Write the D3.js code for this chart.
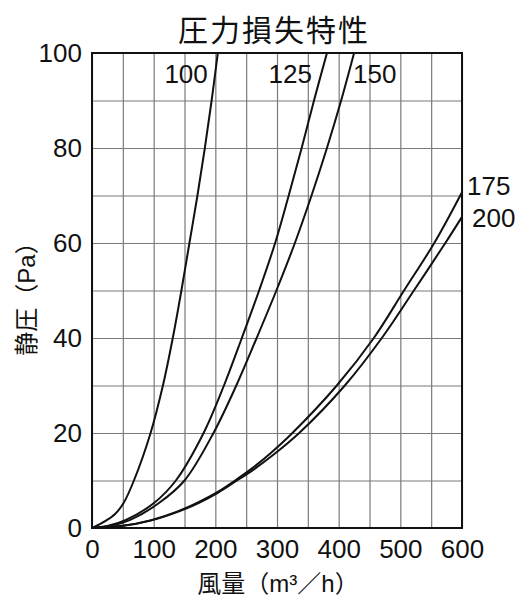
<!DOCTYPE html>
<html>
<head>
<meta charset="utf-8">
<script src="https://cdn.jsdelivr.net/npm/d3@7"></script>
<style>
body { margin: 0; background: #fff; }
</style>
</head>
<body>
<div id="chart"></div>
<script>
// Curves: [airflow (m3/h), static pressure (Pa)]
const curve100 = [[0,0],[22,1.5],[37,2.9],[51,5.2],[68,10],[95,20],[115,30],[131,40],[145,50],[158,60],[171,70],[183,80],[194,90],[204,100]];
const curve125 = [[0,0],[25,0.4],[55,1.7],[100,5.2],[136,10],[181,20],[214,30],[243,40],[271,50],[297,60],[319,70],[340,80],[360,90],[381,100]];
const curve150 = [[0,0],[30,0.4],[62,1.7],[108,5.2],[150,10],[197,20],[234,30],[267,40],[299,50],[329,60],[356,70],[381,80],[404,90],[425,100]];
const curve175 = [[0,0],[50,0.45],[96,1.65],[139,3.5],[172,5.4],[204,7.6],[232,10],[260,12.6],[290,15.8],[325,20],[397,30],[457,40],[506,50],[555,60],[600,70.7]];
const curve200 = [[0,0],[50,0.45],[96,1.6],[139,3.4],[172,5.2],[204,7.4],[234,9.9],[262,12.3],[292,15.2],[336,20],[410,30],[470,40],[522,50],[573,60],[600,65.5]];

const curveNames = ['100', '125', '150', '175', '200'];
const curves = [curve100, curve125, curve150, curve175, curve200];

// grid and tick labels
const xGrid = [0,50,100,150,200,250,300,350,400,450,500,550,600];
const xLabels = [0,100,200,300,400,500,600];
const yGrid = [0,10,20,30,40,50,60,70,80,90,100];
const yLabels = [0,20,40,60,80,100];

const titleText = '圧力損失特性';
const xTitle = '風量（m³／h）';
const yTitle = '静圧（Pa）';

let width = 530;
let height = 610;
let margin = { top: 53, bottom: 82, left: 92, right: 68 };
const numFont = '"Liberation Sans", Arial, "Noto Sans CJK JP", sans-serif';

let svg = d3.select('#chart')
            .append('svg')
            .attr('width', width)
            .attr('height', height)
            .style('background', '#fff');

let xScale = d3.scaleLinear()
               .domain([0, 600])
               .range([margin.left, width - margin.right]);
let yScale = d3.scaleLinear()
               .domain([0, 100])
               .range([height - margin.bottom, margin.top]);

const plotW = width - margin.left - margin.right;
const plotH = height - margin.top - margin.bottom;

// x axis with grid lines
let xAxis = svg.append('g')
    .attr('transform', `translate(0, ${height - margin.bottom})`)
    .call(d3.axisBottom(xScale)
        .tickValues(xGrid)
        .tickSize(-plotH)
        .tickPadding(12)
        .tickFormat(d => xLabels.includes(d) ? d : ''));
xAxis.select('.domain').remove();
xAxis.selectAll('line').attr('stroke', '#7a7a7a').attr('stroke-width', 1.2);
xAxis.selectAll('text')
     .attr('fill', '#111')
     .style('font-family', numFont)
     .style('font-size', '26px');

// y axis with grid lines
let yAxis = svg.append('g')
    .attr('transform', `translate(${margin.left}, 0)`)
    .call(d3.axisLeft(yScale)
        .tickValues(yGrid)
        .tickSize(-plotW)
        .tickPadding(10)
        .tickFormat(d => yLabels.includes(d) ? d : ''));
yAxis.select('.domain').remove();
yAxis.selectAll('line').attr('stroke', '#7a7a7a').attr('stroke-width', 1.2);
yAxis.selectAll('text')
     .attr('fill', '#111')
     .style('font-family', numFont)
     .style('font-size', '26px');

// frame
svg.append('rect')
   .attr('x', margin.left)
   .attr('y', margin.top)
   .attr('width', plotW)
   .attr('height', plotH)
   .attr('fill', 'none')
   .attr('stroke', '#111')
   .attr('stroke-width', 2);

svg.append('clipPath')
   .attr('id', 'plotclip')
   .append('rect')
   .attr('x', margin.left)
   .attr('y', margin.top - 1)
   .attr('width', plotW + 1)
   .attr('height', plotH + 1);

// smooth curves through the read points
let line = d3.line()
    .x(d => xScale(d[0]))
    .y(d => yScale(d[1]))
    .curve(d3.curveCatmullRom.alpha(0.5));

svg.append('g')
   .attr('clip-path', 'url(#plotclip)')
   .selectAll('path')
   .data(curves)
   .enter()
   .append('path')
   .attr('fill', 'none')
   .attr('stroke', '#111')
   .attr('stroke-width', 2)
   .attr('d', line);

// curve labels, placed from each curve's last point
const labelPlace = [
  { anchor: 'end', dx: -10, dy: 30 },
  { anchor: 'end', dx: -15, dy: 30 },
  { anchor: 'start', dx: -1, dy: 30 },
  { anchor: 'start', dx: 5, dy: 3 },
  { anchor: 'start', dx: 10, dy: 10 }
];
curves.forEach((c, i) => {
  const last = c[c.length - 1];
  svg.append('text')
     .attr('x', xScale(last[0]) + labelPlace[i].dx)
     .attr('y', yScale(last[1]) + labelPlace[i].dy)
     .attr('text-anchor', labelPlace[i].anchor)
     .attr('fill', '#111')
     .style('font-family', numFont)
     .style('font-size', '26px')
     .text(curveNames[i]);
});

// titles
svg.append('text')
   .attr('x', 274)
   .attr('y', 28)
   .attr('text-anchor', 'middle')
   .attr('dominant-baseline', 'central')
   .attr('fill', '#111')
   .style('font-family', '"Noto Sans CJK JP", sans-serif')
   .style('font-size', '30px')
   .style('letter-spacing', '2px')
   .text(titleText);

svg.append('text')
   .attr('x', 278)
   .attr('y', 583)
   .attr('text-anchor', 'middle')
   .attr('dominant-baseline', 'central')
   .attr('fill', '#111')
   .style('font-family', numFont)
   .style('font-size', '24px')
   .text(xTitle);

svg.append('text')
   .attr('transform', 'translate(26, 293) rotate(-90)')
   .attr('text-anchor', 'middle')
   .attr('dominant-baseline', 'central')
   .attr('fill', '#111')
   .style('font-family', numFont)
   .style('font-size', '24px')
   .text(yTitle);
</script>
</body>
</html>
